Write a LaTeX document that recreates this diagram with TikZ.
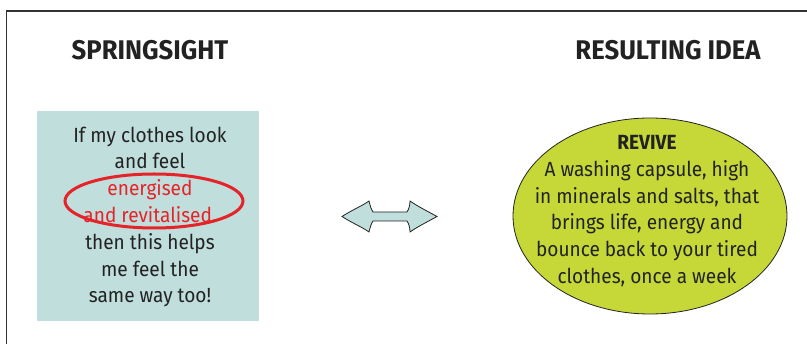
\documentclass[tikz,border=0pt]{standalone}
\usepackage{fontspec}
\newfontfamily\titlefont[FakeStretch=0.95]{Fira Sans}
\newfontfamily\bodyfont[FakeStretch=0.93]{Fira Sans}
\definecolor{boxteal}{HTML}{BFDEDC}
\definecolor{idealime}{HTML}{C5D838}
\definecolor{markred}{HTML}{E52329}
\definecolor{inkdark}{HTML}{222222}
\definecolor{framegray}{HTML}{333333}
\tikzset{
  titletext/.style={font=\titlefont\bfseries\fontsize{27}{30}\selectfont, text=inkdark, inner sep=0pt, anchor=base},
  bodytext/.style={font=\bodyfont\fontsize{20.5}{26.8}\selectfont, text=inkdark, align=center, inner sep=0pt},
  sightbox/.style={fill=boxteal, draw=none},
  ideaoval/.style={fill=idealime, draw=inkdark, line width=0.8pt},
  redring/.style={draw=markred, line width=3pt},
  dblarrow/.style={fill=boxteal, draw=inkdark, line width=0.8pt, line join=miter}
}
\begin{document}
\begin{tikzpicture}[x=1pt,y=-1pt]
\useasboundingbox (0,0) rectangle (807,344);
% frame
\draw[framegray, line width=1.3pt] (6.5,344) -- (6.5,11) -- (807,11);
% titles
\node[titletext] (t1) at (150,60) {SPRINGSIGHT};
\node[titletext] (t2) at (668,60) {RESULTING IDEA};
% left box
\fill[sightbox] (37,111) rectangle (259,321);
\node[bodytext] (sight) at (150,217) {If my clothes look\\and feel\\\textcolor{markred}{energised}\\\textcolor{markred}{and revitalised.}\\then this helps\\me feel the\\same way too!};
\draw[redring] (154,201) ellipse [x radius=89, y radius=27];
% right oval
\draw[ideaoval] (650,216) ellipse [x radius=137, y radius=98];
\node[bodytext] (idea) at (647,211) {\textbf{REVIVE}\\A washing capsule, high\\in minerals and salts, that\\brings life, energy and\\bounce back to your tired\\clothes, once a week};
% double arrow
\draw[dblarrow] (342,216.5)
  .. controls (352,210) and (362,206) .. (369,201)
  .. controls (370,205) and (371,209) .. (373,212)
  -- (407,212)
  .. controls (409,209) and (410,205) .. (410,201)
  .. controls (417,206) and (427,211) .. (437,216.5)
  .. controls (427,222) and (417,227) .. (410,232)
  .. controls (410,228) and (409,224) .. (407,221)
  -- (373,221)
  .. controls (371,224) and (370,228) .. (369,232)
  .. controls (362,227) and (352,223) .. cycle;
\end{tikzpicture}
\end{document}
